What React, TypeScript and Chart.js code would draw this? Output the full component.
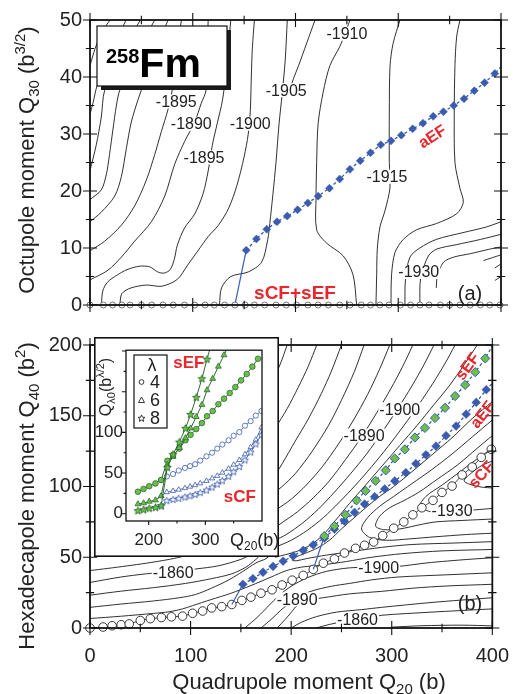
import React, { useEffect, useRef } from 'react';
import { Chart, registerables } from 'chart.js';
Chart.register(...registerables);

const FONT = '"Liberation Sans", Arial, Helvetica, sans-serif';
const TEXT = '#222';
const RED = '#e8262b';
const BLUE = '#3a5cb0';
const GREEN = '#6dbf4b';
const DKGREEN = '#2e6b30';

// ---------- axes ----------
const Q20_TICKS = [0, 100, 200, 300, 400];
const Q20_MINOR = [50, 150, 250, 350];
const Q30_TICKS = [0, 10, 20, 30, 40, 50];
const Q30_MINOR = [5, 15, 25, 35, 45];
const Q40_TICKS = [0, 50, 100, 150, 200];
const Q40_MINOR = [25, 75, 125, 175];
const INSET_X_TICKS = [200, 300];
const INSET_X_MINOR = [250, 350];
const INSET_Y_LABELS = [0, 50, 100];
const INSET_Y_MAJOR = [0, 50, 100, 150, 200];
const INSET_Y_MINOR = [25, 75, 125, 175];

// ---------- fission paths ----------
const SCF_Q20 = [0, 13, 22, 31, 39, 50, 60, 71, 81, 92, 102, 112, 121, 131, 141, 151, 160, 170, 181, 191, 201, 212, 222, 232, 243, 253, 264, 273, 282, 291, 302, 312, 321, 330, 341, 350, 360, 370, 380, 389, 399];
const SCF_Q40 = [0, 0.7, 1.6, 2.3, 2.9, 5.3, 6.6, 7.4, 7.9, 8.4, 10.4, 12, 14.2, 15.1, 16.6, 19.5, 21.8, 24.6, 27, 30.4, 33.8, 37.2, 41.4, 45.8, 48.8, 53, 56.3, 58.5, 60.8, 65.3, 70.5, 75, 80, 85, 90.2, 95.8, 100.3, 108.2, 113.8, 120.6, 126.3];
// inset values along sCF, from Q20 = 181 b
const SCF_INSET_Q20 = [181, 191, 201, 212, 222, 232, 243, 253, 264, 273, 282, 291, 302, 312, 321, 330, 341, 350, 360, 370, 380, 389, 399];
const SCF_Q60 = [11.8, 13, 15, 16.6, 21.7, 26.5, 28, 29.5, 31.4, 33.2, 35, 37.3, 40.2, 43.4, 46.5, 50.4, 55.3, 60.2, 66, 73, 81.8, 91, 106];
const SCF_Q80 = [3.8, 5, 6.6, 7.8, 9.8, 16, 17.5, 18.9, 20.5, 22, 23.6, 25.9, 29, 32.6, 36.3, 40.6, 46, 51.6, 58, 66, 75.7, 85.8, 97];

const SEF_Q20 = [233, 243, 254, 265, 274, 284, 294, 303, 313, 323, 333, 343, 353, 363, 373, 383, 393];
const SEF_Q40 = [65, 72.1, 80, 90.2, 96.9, 104, 111.4, 119.8, 126.2, 134.6, 141.4, 148.4, 155.6, 163.9, 171.8, 180.8, 190.5];
const SEF_Q60 = [60, 70, 81, 93, 105, 119, 134, 152, 166, 181, 195, 210];
const SEF_Q80 = [57, 73, 88, 105, 122, 143, 166, 190, 215];
const SEF_NEXT = [402, 202]; // continuation of the sEF line to the frame

const AEF_Q20 = [152, 162, 172, 182, 192, 202, 212, 222, 233, 243, 253, 263, 273, 283, 293, 303, 314, 324, 334, 344, 354, 364, 374, 384, 394];
const AEF_Q30 = [9.6, 11.6, 13.3, 14.6, 15.6, 16.7, 17.9, 19.1, 20.5, 22.1, 23.8, 25.3, 26.7, 28.1, 28.8, 29.8, 30.9, 31.9, 33.1, 33.9, 35, 36.2, 37.6, 39, 40.6];
const AEF_Q40 = [30.9, 34.9, 39.4, 43.5, 47.2, 50.9, 54.9, 58.8, 63.5, 69.9, 75.5, 81.7, 87.6, 92.8, 98.3, 103.9, 109.8, 116.1, 122.4, 128.5, 135.9, 142.7, 151.1, 159.4, 168.4];
const AEF_NEXT_Q20 = 404;
const AEF_NEXT_Q30 = 42.6;
const AEF_NEXT_Q40 = 176;
const AEF_BRANCH_Q20 = 141; // aEF leaves sCF here
const SEF_BRANCH_Q20 = 222; // sEF leaves sCF here

type Pt = [number, number];

// ---------- energy contours, panel (a): (Q20, Q30) ----------
const TOP_CONTOURS: Pt[][] = [
  [[0, 42], [5, 45], [12, 48], [19.5, 50]],
  [[0, 33.5], [3, 35.5], [7, 38.5], [20, 44], [35, 50]],
  [[0, 23.6], [6, 28], [11, 33], [14.3, 37.7], [30, 44], [49, 50]],
  [[0, 18.5], [11, 20.2], [16, 23], [19, 26.4], [22.4, 30.9], [25.6, 34.9], [29, 37.7], [45, 44], [63, 50]],
  [[0, 14.6], [11, 16.3], [24, 19.1], [30.5, 22.5], [35.4, 27.5], [40.2, 32.1], [46.7, 36], [50, 37.7], [62, 44], [76, 50]],
  [[0, 9.5], [14.3, 11.2], [30.5, 14], [43.5, 17.4], [54.8, 21.9], [63, 26.4], [69.4, 30.4], [75.9, 34.3], [80, 37.7], [84, 44], [89, 50]],
  [[0, 4.4], [17.5, 6.1], [30.5, 8.4], [43.5, 11.2], [59.7, 14.6], [72.7, 19.1], [82.4, 24.7], [92.1, 28.7], [101.9, 32.1], [108.3, 35.4], [113, 37.7], [114, 44], [115, 50]],
  [[11, 0], [12.5, 2.5], [17, 4], [26, 5.2], [36, 6.2], [48, 6.8], [58, 6.7], [66, 5.8], [72, 5.6], [78, 6.2], [82, 8], [85, 10.5], [92, 13.5], [102, 16], [110, 19.5], [115, 23.5], [119, 28], [124, 32], [129, 36], [133, 42], [137, 50]],
  [[29, 0], [31, 2], [40, 3], [55, 3.5], [70, 3.3], [85, 4.5], [95, 7], [105, 9.5], [115, 12], [125, 14], [135, 17], [143, 21], [150, 26], [154, 30], [156, 34], [157, 40], [158, 45], [160, 50]],
  [[126, 0], [128, 3], [137, 5], [154, 5.8], [167, 7.5], [173, 11.5], [175, 14.3], [178, 19.4], [181, 25], [184, 31.8], [187, 37], [190, 43], [192, 50]],
  [[219, 50], [211, 46], [203, 42], [198, 39.7], [194, 37.5]],
  [[253, 50], [248, 47.5], [243, 45.3], [233.5, 42], [227, 37.4], [222, 31.8], [220.6, 25], [220, 18.8], [220.6, 13.2], [230, 10.9], [246.5, 8.6], [256, 5.3], [259.5, 0]],
  [[301.7, 50], [295, 45.9], [292, 41.9], [291.3, 33.5], [291.3, 25], [291.9, 20.5], [287, 16.5], [282.2, 13.7], [279.6, 9.8], [279, 5.3], [278.3, 0]],
  [[360, 50], [356.8, 47], [355.2, 42], [354.5, 33.5], [355.2, 25], [360, 20.5], [363.3, 18], [356.8, 16], [337.3, 14.3], [317.9, 13.2], [304.9, 11.5], [296.8, 9.2], [293.5, 5.3], [292.9, 0]],
  [[306.5, 0], [307, 4.4], [311.4, 8.4], [321, 10], [337, 11.5], [363, 12.7], [386, 13.7], [400, 14.6]],
  [[321, 0], [321.8, 4.7], [329.3, 8.6], [337.4, 9.8], [357, 10.6], [380, 11.5], [400, 12.4]],
  [[337, 3], [338, 5], [344, 7.5], [354, 8.4], [370, 9], [389, 9.8], [400, 10.2]],
  [[383, 7.8], [400, 8.8]],
  [[394, 6.5], [400, 7.2]],
  [[394, 4.3], [400, 5]],
];
const TOP_CONTOUR_LABELS: [string, number, number][] = [
  ['-1895', 84, 35.7], ['-1890', 98.6, 31.8], ['-1895', 111, 25.9], ['-1900', 156, 31.8],
  ['-1905', 191, 37.7], ['-1910', 250, 47.6], ['-1915', 289, 22.5], ['-1930', 320, 5.8],
];

// ---------- energy contours, panel (b): (Q20, Q40) ----------
const BOTTOM_CONTOURS: Pt[][] = [
  [[196, 200], [190, 188], [184, 178]],
  [[225.5, 200], [217, 185], [207, 170], [196, 155], [184, 141]],
  [[250, 200], [240, 181.5], [230, 165.7], [217, 147.7], [204, 132], [191, 116], [184, 108]],
  [[272.5, 200], [263, 181.5], [250, 161], [237, 143], [221, 125], [204, 109], [191, 100], [184, 96]],
  [[298, 200], [288, 183], [276, 165], [262, 147], [247, 130], [231, 114], [215, 101], [200, 91], [184, 83]],
  [[321, 200], [311, 185], [299, 169], [285, 152], [270, 135], [254, 119], [238, 104], [222, 92], [206, 82], [190, 74], [184, 71]],
  [[342, 200], [332, 186], [320, 171], [306, 155], [291, 139], [275, 123], [259, 109], [243, 96], [227, 84], [211, 74], [195, 66], [184, 62]],
  [[363, 200], [353, 187], [341, 173], [327, 158], [312, 143], [296, 128], [280, 114], [264, 101], [248, 89], [232, 78], [216, 69], [200, 62], [184, 57]],
  [[385, 200], [372, 186], [357, 171], [341, 157], [325, 143], [308, 129], [291, 115], [274, 101], [258, 88], [244, 76], [232, 66], [220, 59], [205, 54], [184, 50]],
  [[0, 40.6], [17.5, 42.1], [37, 43.9], [56, 45.8], [79, 48.5], [95, 51]],
  [[0, 32.2], [30.5, 36], [56, 38.3], [82, 40], [105, 41.7], [128, 44], [150, 48.5], [160, 52]],
  [[0, 23.2], [30.5, 26], [63, 28.5], [95, 31.5], [121, 34.9], [141, 38.3], [155, 43], [165, 48.5], [170, 52]],
  [[0, 14.6], [30.5, 16.9], [63, 19.1], [89, 21.4], [105, 23.7], [121, 28.2], [137.5, 33.8], [152, 40], [165, 46], [175, 49], [180, 52]],
  [[0, 6.7], [30.5, 8.3], [63, 10.3], [79, 11.5], [92, 13.5], [102, 15.8], [120, 20], [140, 24.5], [160, 30], [180, 36], [195, 40.5], [210, 43], [230, 44.5], [255, 47], [280, 50], [310, 52.5], [350, 54.5], [400, 55.5]],
  [[400, 61], [360, 60], [320, 59], [290, 57], [260, 54], [235, 51.5], [215, 49], [205, 47.5], [201, 48], [204, 50], [213, 52.5], [226, 56.5], [238, 62], [250, 70], [262, 77.5], [275, 85.5], [288, 93], [302, 100], [321, 111], [341, 123], [360, 134.5], [380, 148], [400, 160]],
  [[400, 67], [373, 66], [344, 64.5], [318, 63], [295, 62], [278, 64], [270, 70], [276, 78], [288, 86], [302, 93], [320, 102], [340, 112], [360, 123], [380, 135], [400, 147]],
  [[400, 77], [370, 76], [344, 75], [328, 73], [308, 70], [292, 69.5], [284, 72], [288, 79], [298, 85], [312, 90], [327, 96], [345, 105], [365, 115], [385, 127], [400, 136]],
  [[400, 84.5], [383, 83.5], [360, 82.5], [340, 82], [328, 86], [334, 93], [350, 101], [367, 110], [384, 119], [400, 127]],
  [[400, 99], [390, 99.5], [380, 101], [372, 104], [380, 110], [390, 115], [400, 118]],
  [[154, 0], [167, 8], [178, 16], [188, 23], [200, 29.5], [216, 35.5], [235, 40], [258, 42.5], [285, 43], [306, 43.5], [335, 46], [355, 47.3], [380, 48.7], [400, 49.6]],
  [[170, 0], [180, 6], [192, 14], [205, 21], [220, 26], [240, 29.5], [258, 31.5], [280, 34], [306, 36], [355, 37.6], [400, 39]],
  [[186, 0], [194, 6], [200, 11], [206, 16], [215, 19.5], [232, 21.4], [258, 24.1], [290, 25.9], [322, 28.2], [355, 29.7], [400, 30.9]],
  [[200, 0], [210, 4], [225, 8], [245, 11.2], [270, 13], [290, 14.6], [339, 18], [400, 21.4]],
  [[225, 0], [238, 2.5], [252, 4.5], [266, 5.6], [280, 7.5], [290, 9], [339, 11.2], [400, 13.5]],
  [[300, 0.6], [330, 1.6], [370, 2], [400, 1.5]],
];
const BOTTOM_CONTOUR_LABELS: [string, number, number][] = [
  ['-1900', 308, 154.5], ['-1890', 272.5, 136], ['-1930', 360, 83], ['-1900', 287, 42.8],
  ['-1890', 206, 20.3], ['-1860', 82.7, 39.5], ['-1860', 266, 5.6],
];

// path names [text, Q20, Q, rotation deg, size]
const TOP_PATH_LABELS: [string, number, number, number, number][] = [['aEF', 333, 29.6, -33, 16], ['sCF+sEF', 199.5, 2.2, 0, 19]];
const BOTTOM_PATH_LABELS: [string, number, number, number, number][] = [['sEF', 375, 185, -54, 16], ['aEF', 390, 151, -52, 16], ['sCF', 389, 108.5, -48, 16]];
const INSET_PATH_LABELS: [string, number, number, number, number][] = [['sEF', 271, 186, 0, 17], ['sCF', 361, 21.8, 0, 17]];
const LEGEND_LAMBDAS = ['4', '6', '8'];

// ---------- helpers ----------
const xy = (xs: number[], ys: number[]) => ys.map((y, i) => ({ x: xs[i], y }));
const pts = (l: Pt[]) => l.map(([x, y]) => ({ x, y }));

type Seg = { t: string; size: number; dy?: number; bold?: boolean };
function richText(ctx: CanvasRenderingContext2D, segs: Seg[], x: number, y: number, align: 'left' | 'center', rot = 0, color = TEXT) {
  ctx.save();
  ctx.translate(x, y);
  if (rot) ctx.rotate(rot);
  const f = (s: Seg) => `${s.bold ? 'bold ' : ''}${s.size}px ${FONT}`;
  let total = 0;
  const ws = segs.map((s) => { ctx.font = f(s); const w = ctx.measureText(s.t).width; total += w; return w; });
  let cx = align === 'center' ? -total / 2 : 0;
  ctx.textAlign = 'left';
  ctx.textBaseline = 'alphabetic';
  ctx.fillStyle = color;
  segs.forEach((s, i) => { ctx.font = f(s); ctx.fillText(s.t, cx, s.dy || 0); cx += ws[i]; });
  ctx.restore();
}

function contourSets(lines: Pt[][]) {
  return lines.map((l) => ({
    data: pts(l), showLine: true, borderColor: '#1a1a1a', borderWidth: 0.9,
    pointRadius: 0, pointHoverRadius: 0, tension: 0.3, order: 10, isContour: true,
  }));
}

function axis(min: number, max: number, position: string, ticks: number[], size: number, labels = false, padding = 0, font = 20) {
  return {
    type: 'linear', min, max, position,
    grid: { display: false, drawTicks: false }, border: { display: false },
    afterBuildTicks: (s: any) => { s.ticks = ticks.map((v) => ({ value: v })); },
    ticks: { display: labels, padding, font: { family: FONT, size: font }, color: TEXT },
    afterFit: (s: any) => { if (position === 'left' || position === 'right') s.width = size; else s.height = size; },
  };
}

function drawFrame(chart: any, xMaj: number[], xMin: number[], yMaj: number[], yMin: number[], inL: number, outL: number, all: boolean) {
  const { ctx, chartArea: { left, right, top, bottom }, scales: { x, y } } = chart;
  ctx.save();
  ctx.strokeStyle = '#111';
  ctx.lineWidth = all ? 1.8 : 1.3;
  ctx.strokeRect(left, top, right - left, bottom - top);
  ctx.lineWidth = 1.1;
  ctx.beginPath();
  const tx = (vals: number[], k: number) => vals.forEach((v) => {
    const p = x.getPixelForValue(v);
    ctx.moveTo(p, bottom - inL * k); ctx.lineTo(p, bottom + outL * k);
    if (all) { ctx.moveTo(p, top + inL * k); ctx.lineTo(p, top - outL * k); }
  });
  const ty = (vals: number[], k: number) => vals.forEach((v) => {
    const p = y.getPixelForValue(v);
    ctx.moveTo(left + inL * k, p); ctx.lineTo(left - outL * k, p);
    if (all) { ctx.moveTo(right - inL * k, p); ctx.lineTo(right + outL * k, p); }
  });
  tx(xMaj, 1); tx(xMin, 0.6); ty(yMaj, 1); ty(yMin, 0.6);
  ctx.stroke();
  ctx.restore();
}

function drawContourLabels(chart: any, labels: [string, number, number][]) {
  const { ctx, scales: { x, y } } = chart;
  ctx.save();
  ctx.font = `16px ${FONT}`;
  ctx.textAlign = 'center';
  ctx.textBaseline = 'middle';
  labels.forEach(([t, vx, vy]) => {
    const px = x.getPixelForValue(vx), py = y.getPixelForValue(vy);
    const w = ctx.measureText(t).width;
    ctx.fillStyle = '#fff';
    ctx.fillRect(px - w / 2 - 1, py - 7, w + 2, 14);
    ctx.fillStyle = TEXT;
    ctx.fillText(t, px, py + 1);
  });
  ctx.restore();
}

function drawPathLabels(chart: any, labels: [string, number, number, number, number][]) {
  const { ctx, scales: { x, y } } = chart;
  labels.forEach(([t, vx, vy, rot, size]) => {
    ctx.save();
    ctx.translate(x.getPixelForValue(vx), y.getPixelForValue(vy));
    ctx.rotate((rot * Math.PI) / 180);
    ctx.font = `bold ${size}px ${FONT}`;
    ctx.textAlign = 'center';
    ctx.textBaseline = 'middle';
    ctx.fillStyle = RED;
    ctx.fillText(t, 0, 1);
    ctx.restore();
  });
}

function starCanvas(r: number, fill: string, stroke: string, lw: number) {
  const size = Math.ceil(2 * r + 3);
  const c = document.createElement('canvas');
  c.width = size; c.height = size;
  const g = c.getContext('2d')!;
  starPath(g, size / 2, size / 2 + 0.3, r);
  g.fillStyle = fill; g.fill();
  g.strokeStyle = stroke; g.lineWidth = lw; g.stroke();
  return c;
}
function starPath(g: CanvasRenderingContext2D, cx: number, cy: number, r: number) {
  g.beginPath();
  for (let i = 0; i < 10; i++) {
    const a = -Math.PI / 2 + (i * Math.PI) / 5;
    const rr = i % 2 === 0 ? r : r * 0.45;
    const px = cx + rr * Math.cos(a), py = cy + rr * Math.sin(a);
    if (i) g.lineTo(px, py); else g.moveTo(px, py);
  }
  g.closePath();
}

const contourLabelPlugin = (labels: [string, number, number][]) => ({
  id: 'contourLabels',
  afterDatasetDraw(chart: any, args: any) {
    const first = chart.data.datasets.findIndex((d: any) => d.isContour);
    if (args.index === first) drawContourLabels(chart, labels);
  },
});

const baseOptions = (scales: any) => ({
  animation: false, responsive: false, maintainAspectRatio: false, events: [],
  layout: { padding: 0 },
  plugins: { legend: { display: false }, tooltip: { enabled: false } },
  scales,
});

function idx(arr: number[], v: number) { return arr.indexOf(v); }

// ---------- chart configs ----------
function topConfig(): any {
  const b = idx(SCF_Q20, AEF_BRANCH_Q20);
  const aef = xy(AEF_Q20, AEF_Q30).concat([{ x: AEF_NEXT_Q20, y: AEF_NEXT_Q30 }]);
  return {
    type: 'scatter',
    data: {
      datasets: [
        { data: SCF_Q20.map((x) => ({ x, y: 0 })), pointStyle: 'circle', pointRadius: 3, backgroundColor: '#fff', borderColor: '#555', borderWidth: 0.8, showLine: false, clip: false, order: 0 },
        { data: aef, showLine: true, borderColor: BLUE, borderWidth: 1.3, borderDash: [3, 2.5], pointStyle: 'rectRot', pointRadius: aef.map((_, i) => (i < AEF_Q20.length ? 4 : 0)), backgroundColor: BLUE, pointBorderColor: BLUE, pointBorderWidth: 0.5, order: 0 },
        { data: [{ x: SCF_Q20[b], y: 0 }, { x: AEF_Q20[0], y: AEF_Q30[0] }], showLine: true, borderColor: BLUE, borderWidth: 1.2, pointRadius: 0, order: 1 },
        ...contourSets(TOP_CONTOURS),
      ],
    },
    options: baseOptions({
      x: axis(0, 400, 'bottom', Q20_TICKS, 12),
      y: axis(0, 50, 'left', Q30_TICKS, 90, true, 8),
      x2: axis(0, 400, 'top', Q20_TICKS, 17),
      y2: axis(0, 50, 'right', Q30_TICKS, 24),
    }),
    plugins: [
      contourLabelPlugin(TOP_CONTOUR_LABELS),
      {
        id: 'topDeco',
        afterDatasetsDraw(chart: any) {
          drawFrame(chart, Q20_TICKS, Q20_MINOR, Q30_TICKS, Q30_MINOR, 7, 7, true);
        },
        afterDraw(chart: any) {
          const { ctx, chartArea: { left, top } } = chart;
          drawPathLabels(chart, TOP_PATH_LABELS);
          const bx = left + 7, by = top + 6, bw = 130, bh = 60;
          ctx.save();
          ctx.fillStyle = '#1a1a1a'; ctx.fillRect(bx + 4, by + 4, bw, bh);
          ctx.fillStyle = '#fff'; ctx.fillRect(bx, by, bw, bh);
          ctx.strokeStyle = '#111'; ctx.lineWidth = 1.2; ctx.strokeRect(bx, by, bw, bh);
          ctx.restore();
          richText(ctx, [{ t: '258', size: 20, bold: true, dy: -14 }, { t: 'Fm', size: 41, bold: true }], bx + 9, by + 51, 'left', 0, '#000');
          richText(ctx, [{ t: 'Octupole moment Q', size: 22 }, { t: '30', size: 15, dy: 5 }, { t: ' (b', size: 22 }, { t: '3/2', size: 15, dy: -9 }, { t: ')', size: 22 }], 34, 160, 'center', -Math.PI / 2);
          richText(ctx, [{ t: '(a)', size: 20 }], 470, 300, 'center');
        },
      },
    ],
  };
}

function bottomConfig(): any {
  const ia = idx(SCF_Q20, AEF_BRANCH_Q20);
  const is = idx(SCF_Q20, SEF_BRANCH_Q20);
  const aef = xy(AEF_Q20, AEF_Q40).concat([{ x: AEF_NEXT_Q20, y: AEF_NEXT_Q40 }]);
  const sef = xy(SEF_Q20, SEF_Q40).concat([{ x: SEF_NEXT[0], y: SEF_NEXT[1] }]);
  return {
    type: 'scatter',
    data: {
      datasets: [
        { data: sef, showLine: true, borderColor: BLUE, borderWidth: 1.3, borderDash: [3, 2.5], pointStyle: 'rectRot', pointRadius: sef.map((_, i) => (i < SEF_Q20.length ? 4.6 : 0)), backgroundColor: GREEN, pointBorderColor: BLUE, pointBorderWidth: 1, order: 0 },
        { data: aef, showLine: true, borderColor: BLUE, borderWidth: 1.3, borderDash: [3, 2.5], pointStyle: 'rectRot', pointRadius: aef.map((_, i) => (i < AEF_Q20.length ? 4.4 : 0)), backgroundColor: BLUE, pointBorderColor: BLUE, pointBorderWidth: 0.5, order: 0 },
        { data: [{ x: SCF_Q20[ia], y: SCF_Q40[ia] }, { x: AEF_Q20[0], y: AEF_Q40[0] }], showLine: true, borderColor: BLUE, borderWidth: 1.2, pointRadius: 0, order: 1 },
        { data: [{ x: SCF_Q20[is], y: SCF_Q40[is] }, { x: SEF_Q20[0], y: SEF_Q40[0] }], showLine: true, borderColor: BLUE, borderWidth: 1.2, pointRadius: 0, order: 1 },
        { data: xy(SCF_Q20, SCF_Q40), showLine: true, borderColor: '#333', borderWidth: 0.9, pointStyle: 'circle', pointRadius: 4.3, backgroundColor: '#fff', pointBorderColor: '#222', pointBorderWidth: 0.9, clip: false, order: 2 },
        ...contourSets(BOTTOM_CONTOURS),
      ],
    },
    options: baseOptions({
      x: axis(0, 400, 'bottom', Q20_TICKS, 66, true, 16),
      y: axis(0, 200, 'left', Q40_TICKS, 90, true, 8),
      x2: axis(0, 400, 'top', Q20_TICKS, 8),
      y2: axis(0, 200, 'right', Q40_TICKS, 24),
    }),
    plugins: [
      contourLabelPlugin(BOTTOM_CONTOUR_LABELS),
      {
        id: 'bottomDeco',
        afterDatasetsDraw(chart: any) {
          drawFrame(chart, Q20_TICKS, Q20_MINOR, Q40_TICKS, Q40_MINOR, 7, 7, true);
        },
        afterDraw(chart: any) {
          const { ctx } = chart;
          drawPathLabels(chart, BOTTOM_PATH_LABELS);
          richText(ctx, [{ t: 'Hexadecapole moment Q', size: 22 }, { t: '40', size: 15, dy: 5 }, { t: ' (b', size: 22 }, { t: '2', size: 15, dy: -9 }, { t: ')', size: 22 }], 34, 171, 'center', -Math.PI / 2);
          richText(ctx, [{ t: 'Quadrupole moment Q', size: 22 }, { t: '20', size: 15, dy: 5 }, { t: ' (b)', size: 22 }], 309, 364, 'center');
          richText(ctx, [{ t: '(b)', size: 20 }], 470, 285, 'center');
        },
      },
    ],
  };
}

function insetConfig(): any {
  const s0 = idx(SCF_Q20, SCF_INSET_Q20[0]);
  const sb = idx(SCF_Q20, SEF_BRANCH_Q20);
  const ib = idx(SCF_INSET_Q20, SEF_BRANCH_Q20);
  const low4 = xy(SCF_Q20.slice(s0, sb + 1), SCF_Q40.slice(s0, sb + 1));
  const low6 = xy(SCF_INSET_Q20.slice(0, ib + 1), SCF_Q60.slice(0, ib + 1));
  const low8 = xy(SCF_INSET_Q20.slice(0, ib + 1), SCF_Q80.slice(0, ib + 1));
  const gStarFill = starCanvas(4, GREEN, DKGREEN, 0.9);
  const bStar = starCanvas(3.6, '#fff', BLUE, 0.9);
  const green = (data: any[], style: any, r: number) => ({ data, showLine: true, borderColor: DKGREEN, borderWidth: 1, pointStyle: style, pointRadius: r, backgroundColor: GREEN, pointBorderColor: DKGREEN, pointBorderWidth: 0.8, order: 0 });
  const blue = (data: any[], style: any, r: number) => ({ data, showLine: true, borderColor: BLUE, borderWidth: 0.8, pointStyle: style, pointRadius: r, backgroundColor: '#fff', pointBorderColor: BLUE, pointBorderWidth: 0.8, order: 1 });
  return {
    type: 'scatter',
    data: {
      datasets: [
        green(low8.concat(xy(SEF_Q20, SEF_Q80)), gStarFill, 4),
        green(low6.concat(xy(SEF_Q20, SEF_Q60)), 'triangle', 3.4),
        green(low4.concat(xy(SEF_Q20, SEF_Q40)), 'circle', 2.8),
        blue(xy(SCF_INSET_Q20.slice(ib), SCF_Q80.slice(ib)), bStar, 3.6),
        blue(xy(SCF_INSET_Q20.slice(ib), SCF_Q60.slice(ib)), 'triangle', 3),
        blue(xy(SCF_Q20.slice(sb), SCF_Q40.slice(sb)), 'circle', 2.6),
      ],
    },
    options: baseOptions({
      x: axis(160, 400, 'bottom', INSET_X_TICKS, 36, true, 9, 17),
      y: axis(-9, 201, 'left', INSET_Y_LABELS, 32, true, 3, 17),
      x2: axis(160, 400, 'top', INSET_X_TICKS, 7),
      y2: axis(-9, 201, 'right', INSET_Y_LABELS, 17),
    }),
    plugins: [
      {
        id: 'insetBg',
        beforeDraw(chart: any) {
          const { ctx, width, height } = chart;
          ctx.save(); ctx.fillStyle = '#fff'; ctx.fillRect(0, 0, width, height); ctx.restore();
        },
        afterDatasetsDraw(chart: any) {
          drawFrame(chart, INSET_X_TICKS, INSET_X_MINOR, INSET_Y_MAJOR, INSET_Y_MINOR, 0, 4, false);
        },
        afterDraw(chart: any) {
          const { ctx, width, height } = chart;
          ctx.save();
          ctx.strokeStyle = '#111'; ctx.lineWidth = 1.6;
          ctx.strokeRect(0.8, 0.8, width - 1.6, height - 1.6);
          // legend
          ctx.lineWidth = 1.2;
          ctx.strokeRect(40, 18, 33, 73);
          ctx.fillStyle = TEXT;
          ctx.font = `18px ${FONT}`;
          ctx.textAlign = 'center'; ctx.textBaseline = 'alphabetic';
          ctx.fillText('λ', 58, 34);
          ctx.textAlign = 'left';
          const rowsY = [51, 69, 87];
          LEGEND_LAMBDAS.forEach((t, i) => ctx.fillText(t, 56, rowsY[i]));
          ctx.strokeStyle = '#222'; ctx.lineWidth = 0.9;
          ctx.beginPath(); ctx.arc(47.5, 45, 2.4, 0, Math.PI * 2); ctx.stroke();
          ctx.beginPath(); ctx.moveTo(47.5, 60); ctx.lineTo(50.5, 65.5); ctx.lineTo(44.5, 65.5); ctx.closePath(); ctx.stroke();
          starPath(ctx, 47.5, 81.5, 3.6); ctx.stroke();
          ctx.restore();
          drawPathLabels(chart, INSET_PATH_LABELS);
          richText(ctx, [{ t: 'Q', size: 16 }, { t: 'λ0', size: 11, dy: 4 }, { t: '(b', size: 16 }, { t: 'λ/2', size: 11, dy: -7 }, { t: ')', size: 16 }], 17, 50, 'center', -Math.PI / 2);
          richText(ctx, [{ t: 'Q', size: 18 }, { t: '20', size: 12, dy: 4 }, { t: '(b)', size: 18 }], 136, 209, 'left');
        },
      },
    ],
  };
}

export default function App() {
  const topRef = useRef<HTMLCanvasElement>(null);
  const botRef = useRef<HTMLCanvasElement>(null);
  const insRef = useRef<HTMLCanvasElement>(null);
  useEffect(() => {
    const charts = [
      new Chart(topRef.current as HTMLCanvasElement, topConfig()),
      new Chart(botRef.current as HTMLCanvasElement, bottomConfig()),
      new Chart(insRef.current as HTMLCanvasElement, insetConfig()),
    ];
    return () => charts.forEach((c) => c.destroy());
  }, []);
  return (
    <div style={{ position: 'absolute', left: 0, top: 0, width: 525, height: 694, background: '#fff', overflow: 'hidden' }}>
      <canvas ref={topRef} width={525} height={325} style={{ position: 'absolute', left: 0, top: 0, width: 525, height: 325 }} />
      <canvas ref={botRef} width={525} height={369} style={{ position: 'absolute', left: 0, top: 325, width: 525, height: 369 }} />
      <canvas ref={insRef} width={185} height={220} style={{ position: 'absolute', left: 94, top: 337, width: 185, height: 220 }} />
    </div>
  );
}
